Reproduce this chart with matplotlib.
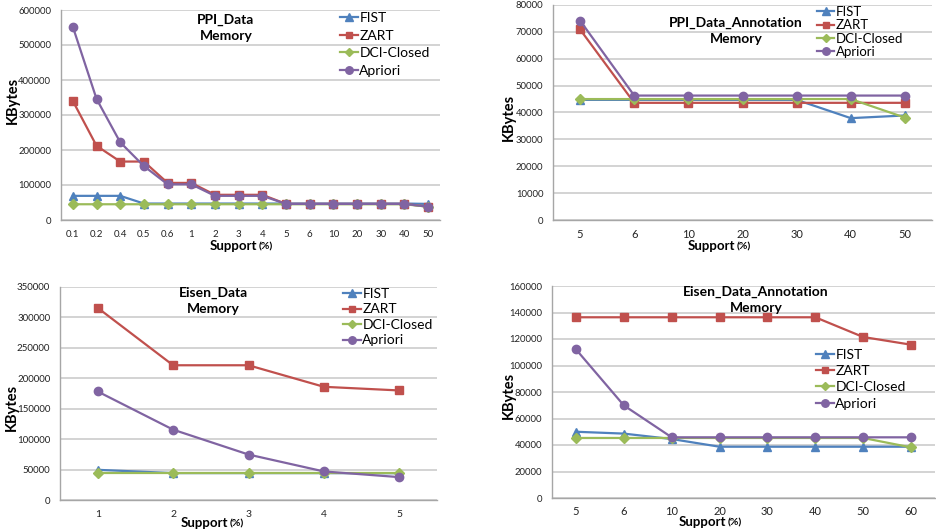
import matplotlib
matplotlib.use("Agg")
import matplotlib.pyplot as plt

plt.rcParams['font.family'] = ['Lato', 'DejaVu Sans']

series_names = ['FIST', 'ZART', 'DCI-Closed', 'Apriori']
colors = ['#4F81BD', '#C0504D', '#9BBB59', '#8064A2']
markers = ['^', 's', 'D', 'o']
msizes = [6, 5.5, 5, 6]

# PPI_Data
ppi_support = ['0.1', '0.2', '0.4', '0.5', '0.6', '1', '2', '3', '4', '5', '6', '10', '20', '30', '40', '50']
ppi_fist = [69000, 69000, 69000, 47000, 47000, 47000, 47000, 47000, 47000, 47000, 47000, 47000, 47000, 47000, 47000, 46000]
ppi_zart = [340000, 212000, 167000, 167000, 106000, 106000, 72000, 72000, 72000, 46000, 46000, 46000, 46000, 46000, 46000, 38000]
ppi_dci = [45000, 45000, 45000, 45000, 45000, 45000, 45000, 45000, 45000, 45000, 45000, 45000, 45000, 45000, 45000, 38000]
ppi_apriori = [552000, 346000, 222000, 154000, 102000, 102000, 69000, 69000, 69000, 46000, 46000, 46000, 46000, 46000, 46000, 38000]

# PPI_Data_Annotation
ppia_support = ['5', '6', '10', '20', '30', '40', '50']
ppia_fist = [44700, 44700, 44700, 44700, 44700, 37900, 38900]
ppia_zart = [70900, 43600, 43600, 43600, 43600, 43600, 43600]
ppia_dci = [45000, 45000, 45000, 45000, 45000, 45000, 38100]
ppia_apriori = [74200, 46300, 46300, 46300, 46300, 46300, 46300]

# Eisen_Data
eisen_support = ['1', '2', '3', '4', '5']
eisen_fist = [49600, 44200, 44200, 44200, 44000]
eisen_zart = [315700, 221400, 221400, 186000, 180000]
eisen_dci = [45000, 45000, 45000, 45000, 45000]
eisen_apriori = [178300, 115600, 74700, 46900, 37600]

# Eisen_Data_Annotation
eisena_support = ['5', '6', '10', '20', '30', '40', '50', '60']
eisena_fist = [50000, 48600, 44500, 38700, 38700, 38700, 38700, 38700]
eisena_zart = [136400, 136400, 136400, 136400, 136400, 136400, 121500, 115700]
eisena_dci = [45300, 45300, 45300, 45300, 45300, 45300, 45300, 38200]
eisena_apriori = [112200, 69900, 45800, 45800, 45800, 45800, 45800, 45800]

W, H = 936, 531
fig = plt.figure(figsize=(W / 100, H / 100), dpi=100)


def px_rect(l, t, r, b):
    return [l / W, 1 - b / H, (r - l) / W, (b - t) / H]


panels = [
    dict(rect=px_rect(61, 10, 440, 220), cats=ppi_support,
         data=[ppi_fist, ppi_zart, ppi_dci, ppi_apriori],
         ymax=600000, step=100000, title='PPI_Data\nMemory', title_xy=(226, 28),
         ytick_fs=6.8, xtick_fs=7, xpad=7.5,
         leg_xy=(340, 12), leg_fs=10, leg_sp=0.4,
         xlab=(257, 246), ylab=(13, 100)),
    dict(rect=px_rect(553, 5, 932, 220), cats=ppia_support,
         data=[ppia_fist, ppia_zart, ppia_dci, ppia_apriori],
         ymax=80000, step=10000, title='PPI_Data_Annotation\nMemory', title_xy=(736, 31),
         ytick_fs=6.8, xtick_fs=8, xpad=6.5,
         leg_xy=(817, 6), leg_fs=9.5, leg_sp=0.1,
         xlab=(735, 246), ylab=(509, 117)),
    dict(rect=px_rect(60, 287, 437, 500), cats=eisen_support,
         data=[eisen_fist, eisen_zart, eisen_dci, eisen_apriori],
         ymax=350000, step=50000, title='Eisen_Data\nMemory', title_xy=(213, 301),
         ytick_fs=7, xtick_fs=7.5, xpad=7.5,
         leg_xy=(343, 288), leg_fs=10, leg_sp=0.25,
         xlab=(228, 523), ylab=(12, 407)),
    dict(rect=px_rect(552, 286, 935, 498), cats=eisena_support,
         data=[eisena_fist, eisena_zart, eisena_dci, eisena_apriori],
         ymax=160000, step=20000, title='Eisen_Data_Annotation\nMemory', title_xy=(756, 300),
         ytick_fs=6.8, xtick_fs=8, xpad=5.5,
         leg_xy=(816, 349), leg_fs=10, leg_sp=0.3,
         xlab=(726, 522), ylab=(509, 395)),
]

for p in panels:
    ax = fig.add_axes(p['rect'])
    x = list(range(len(p['cats'])))
    for name, vals, c, m, ms in zip(series_names, p['data'], colors, markers, msizes):
        ax.plot(x, vals, color=c, marker=m, markersize=ms, linewidth=1.6, label=name, zorder=3)
    ax.set_xlim(-0.5, len(x) - 0.5)
    ax.set_ylim(0, p['ymax'])
    ax.set_yticks(range(0, p['ymax'] + 1, p['step']))
    ax.set_xticks(x)
    ax.set_xticklabels(p['cats'])
    ax.tick_params(length=0, colors='#222222')
    ax.tick_params(axis='x', pad=p['xpad'], labelsize=p['xtick_fs'])
    ax.tick_params(axis='y', pad=7, labelsize=p['ytick_fs'])
    ax.grid(axis='y', color='#c8c8c8', linewidth=1.1)
    ax.set_axisbelow(True)
    for s in ['top', 'right']:
        ax.spines[s].set_visible(False)
    for s in ['left', 'bottom']:
        ax.spines[s].set_color('#a6a6a6')
        ax.spines[s].set_linewidth(1.0)

    # two-line bold title inside the plot area
    fig.text(p['title_xy'][0] / W, 1 - p['title_xy'][1] / H, p['title'],
             ha='center', va='center', fontsize=10, fontweight='bold', linespacing=1.4)
    fig.text(p['ylab'][0] / W, 1 - p['ylab'][1] / H, 'KBytes',
             rotation=90, ha='center', va='center', fontsize=10.5, fontweight='bold')
    # axis title: bold "Support" followed by a smaller "(%)"
    lx, ly = p['xlab']
    fig.text(lx / W, 1 - ly / H, 'Support', ha='right', va='center',
             fontsize=9.5, fontweight='bold')
    fig.text((lx + 2) / W, 1 - (ly + 1) / H, '(%)', ha='left', va='center',
             fontsize=7.5, fontweight='bold')

    ax.legend(loc='upper left', bbox_to_anchor=(p['leg_xy'][0] / W, 1 - p['leg_xy'][1] / H),
              bbox_transform=fig.transFigure, frameon=False, fontsize=p['leg_fs'],
              handlelength=1.3, handletextpad=0.1, labelspacing=p['leg_sp'], borderaxespad=0,
              borderpad=0, markerscale=0.9)

fig.savefig('out.png', dpi=100)
